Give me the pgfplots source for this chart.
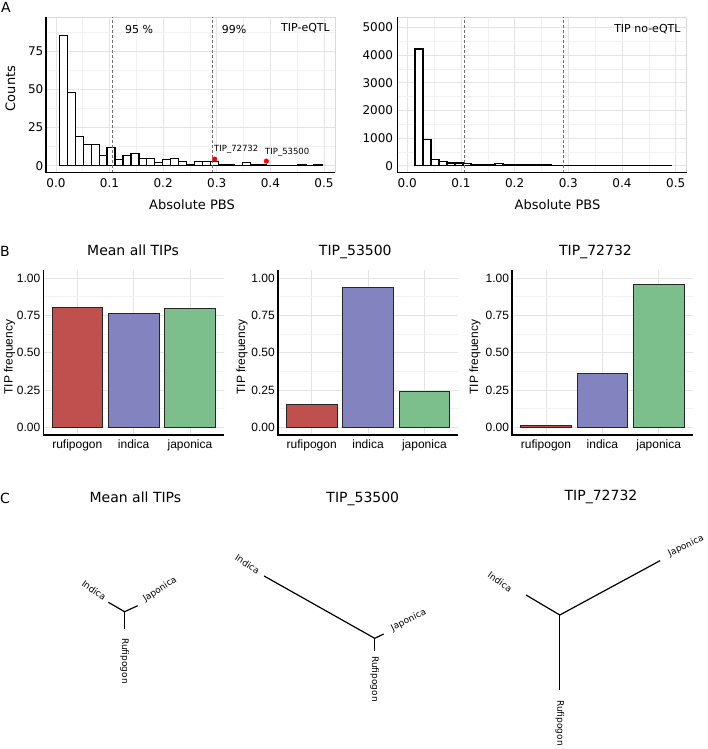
\documentclass[border=0pt]{standalone}
\usepackage{pgfplots}
\pgfplotsset{compat=1.18}
\usepackage{fontspec}
\setmainfont{DejaVu Sans}
\newfontfamily\lib{Liberation Sans}
\definecolor{cred}{HTML}{C0504D}
\definecolor{cblue}{HTML}{8383BF}
\definecolor{cgreen}{HTML}{7DBF8C}
\definecolor{gridmaj}{HTML}{E4E4E4}
\definecolor{gridmin}{HTML}{F1F1F1}
\definecolor{dashc}{HTML}{707070}
\newcommand\fs[1]{\fontsize{#1}{#1}\selectfont}

\pgfplotsset{
  /pgf/number format/assume math mode=true,
  /pgf/number format/1000 sep={},
  histA/.style={
    scale only axis, width=289pt, height=155.7pt,
    xmin=-0.0185, xmax=0.5205,
    scaled x ticks=false, scaled y ticks=false,
    xtick={0,0.1,0.2,0.3,0.4,0.5},
    minor xtick={0.05,0.15,0.25,0.35,0.45},
    xticklabel={\pgfmathprintnumber[fixed,fixed zerofill,precision=1]{\tick}},
    grid=both,
    major grid style={gridmaj, line width=0.7pt},
    minor grid style={gridmin, line width=0.5pt},
    axis line style={gray!30, line width=0.6pt},
    major tick length=0pt, minor tick length=0pt,
    tick label style={font=\fs{12}},
    xticklabel style={inner sep=0pt, anchor=north, yshift=-5.5pt},
    yticklabel style={inner sep=0pt, anchor=east, xshift=-2.5pt},
    clip=false,
  },
  barB/.style={
    scale only axis, width=180.3pt, height=164.3pt,
    xmin=-0.6, xmax=2.6, ymin=-0.05, ymax=1.05,
    xtick={0,1,2}, xticklabels={rufipogon,indica,japonica},
    ytick={0,0.25,0.5,0.75,1},
    minor ytick={0.125,0.375,0.625,0.875},
    yticklabel={\pgfmathprintnumber[fixed,fixed zerofill,precision=2]{\tick}},
    grid=both,
    major grid style={gridmaj, line width=0.7pt},
    minor grid style={gridmin, line width=0.5pt},
    axis line style={draw=none},
    major tick length=0pt, minor tick length=0pt,
    tick label style={font=\lib\fs{12}},
    xticklabel style={inner sep=0pt, anchor=north, yshift=-5pt},
    yticklabel style={inner sep=0pt, anchor=east, xshift=-3pt},
    clip=false,
  },
  barstyle/.style={ybar, bar width=0.9, bar shift=0pt, draw=black!85, line width=0.8pt},
}

\begin{document}
\begin{tikzpicture}
\useasboundingbox (0,0) rectangle (708pt,749pt);

% ---------------- Panel A left ----------------
\begin{axis}[histA, at={(46pt,576.3pt)}, anchor=south west,
  ymin=-4.5, ymax=97.3, ytick={0,25,50,75}, minor ytick={12.5,37.5,62.5,87.5}]
\addplot[ybar interval, fill=white, draw=black, line width=1.2pt] coordinates {
(0.0064,85) (0.02124,48) (0.03608,19) (0.05092,14) (0.06576,14) (0.0806,7)
(0.09544,12) (0.11028,4) (0.12512,7) (0.13996,8) (0.1548,5) (0.16964,5)
(0.18448,2) (0.19932,4) (0.21416,5) (0.229,3) (0.24384,1) (0.25868,3)
(0.27352,3) (0.28836,3) (0.3032,1) (0.31804,1) (0.33288,0) (0.34772,2)
(0.36256,1) (0.3774,1) (0.39224,0) (0.40708,0) (0.42192,0) (0.43676,0)
(0.4516,1) (0.46644,0) (0.48128,1) (0.49612,0)};
\addplot[dashc, line width=0.8pt, dash pattern=on 3pt off 2pt] coordinates {(0.105,-4.5) (0.105,97.3)};
\addplot[dashc, line width=0.8pt, dash pattern=on 3pt off 2pt] coordinates {(0.291,-4.5) (0.291,97.3)};
\addplot[only marks, mark=*, mark size=2.3pt, color=red] coordinates {(0.296,4.4) (0.3925,3.1)};
\draw[black, line width=1.4pt] (rel axis cs:0,1) -- (rel axis cs:0,0) -- (rel axis cs:1,0);
\end{axis}

% ---------------- Panel A right ----------------
\begin{axis}[histA, at={(397.3pt,576.3pt)}, anchor=south west, width=289.4pt,
  ymin=-252, ymax=5373, ytick={0,1000,2000,3000,4000,5000},
  minor ytick={500,1500,2500,3500,4500},
  yticklabel={\pgfmathprintnumber[int detect]{\tick}},
  yticklabel style={xshift=-1.5pt}]
\addplot[ybar interval, fill=white, draw=black, line width=1.2pt] coordinates {
(0.0143,4220) (0.02923,950) (0.04416,230) (0.05909,150) (0.07402,100) (0.08895,95)
(0.10388,70) (0.11881,55) (0.13374,50) (0.14867,45) (0.1636,75) (0.17853,40)
(0.19346,35) (0.20839,30) (0.22332,30) (0.23825,25) (0.25318,25) (0.26811,20)
(0.28304,20) (0.29797,20) (0.3129,15) (0.32783,15) (0.34276,15) (0.35769,12)
(0.37262,12) (0.38755,10) (0.40248,10) (0.41741,10) (0.43234,8) (0.44727,8)
(0.4622,8) (0.47713,5) (0.49206,0)};
\addplot[dashc, line width=0.8pt, dash pattern=on 3pt off 2pt] coordinates {(0.107,-252) (0.107,5373)};
\addplot[dashc, line width=0.8pt, dash pattern=on 3pt off 2pt] coordinates {(0.291,-252) (0.291,5373)};
\draw[black, line width=1.4pt] (rel axis cs:0,1) -- (rel axis cs:0,0) -- (rel axis cs:1,0);
\end{axis}

% ---------------- Panel B ----------------
\begin{axis}[barB, at={(43.5pt,314.2pt)}, anchor=south west]
\addplot[barstyle, fill=cred] coordinates {(0,0.804)};
\addplot[barstyle, fill=cblue] coordinates {(1,0.766)};
\addplot[barstyle, fill=cgreen] coordinates {(2,0.799)};
\draw[black, line width=1.6pt] (rel axis cs:0,1) -- (rel axis cs:0,0) -- (rel axis cs:1,0);
\end{axis}

\begin{axis}[barB, at={(277.9pt,314.2pt)}, anchor=south west]
\addplot[barstyle, fill=cred] coordinates {(0,0.156)};
\addplot[barstyle, fill=cblue] coordinates {(1,0.940)};
\addplot[barstyle, fill=cgreen] coordinates {(2,0.241)};
\draw[black, line width=1.6pt] (rel axis cs:0,1) -- (rel axis cs:0,0) -- (rel axis cs:1,0);
\end{axis}

\begin{axis}[barB, at={(512.2pt,314.2pt)}, anchor=south west]
\addplot[barstyle, fill=cred] coordinates {(0,0.015)};
\addplot[barstyle, fill=cblue] coordinates {(1,0.364)};
\addplot[barstyle, fill=cgreen] coordinates {(2,0.958)};
\draw[black, line width=1.6pt] (rel axis cs:0,1) -- (rel axis cs:0,0) -- (rel axis cs:1,0);
\end{axis}

% ---------------- Overlay: labels and panel C trees (pixel coordinates) ----------------
\begin{axis}[at={(0pt,0pt)}, anchor=south west, scale only axis, width=708pt, height=749pt,
  xmin=0, xmax=708, ymin=0, ymax=749, y dir=reverse, hide axis, clip=false]
% panel letters
\node[font=\fs{14}] at (axis cs:6,7) {A};
\node[font=\fs{14}] at (axis cs:5,251.5) {B};
\node[font=\fs{14}] at (axis cs:5,498) {C};
% panel A labels
\node[font=\fs{13}, rotate=90] at (axis cs:10.5,88.5) {Counts};
\node[font=\fs{13}, anchor=base] at (axis cs:192,209) {Absolute PBS};
\node[font=\fs{13}, anchor=base] at (axis cs:557.5,209) {Absolute PBS};
\node[font=\fs{11}, anchor=base west, inner sep=0pt] at (axis cs:125,33.3) {95 \%};
\node[font=\fs{11}, anchor=base west, inner sep=0pt] at (axis cs:221.7,33.3) {99\%};
\node[font=\fs{11}, anchor=base east, inner sep=0pt] at (axis cs:330,32) {TIP-eQTL};
\node[font=\fs{11}, anchor=base east, inner sep=0pt] at (axis cs:680.7,32.3) {TIP no-eQTL};
\node[font=\fs{8.5}, anchor=base west, inner sep=0pt] at (axis cs:214,151.7) {TIP\_72732};
\node[font=\fs{8.5}, anchor=base west, inner sep=0pt] at (axis cs:265,154.3) {TIP\_53500};
% panel B titles and y labels
\node[font=\fs{14}, anchor=base] at (axis cs:133,255) {Mean all TIPs};
\node[font=\fs{14}, anchor=base] at (axis cs:355.3,255) {TIP\_53500};
\node[font=\fs{14}, anchor=base] at (axis cs:595.5,255) {TIP\_72732};
\node[font=\lib\fs{12}, rotate=90] at (axis cs:9.5,357) {TIP frequency};
\node[font=\lib\fs{12}, rotate=90] at (axis cs:242,357) {TIP frequency};
\node[font=\lib\fs{12}, rotate=90] at (axis cs:475,357) {TIP frequency};
% panel C titles
\node[font=\fs{14}, anchor=base] at (axis cs:135.4,502.3) {Mean all TIPs};
\node[font=\fs{14}, anchor=base] at (axis cs:362.8,502.3) {TIP\_53500};
\node[font=\fs{14}, anchor=base] at (axis cs:601,500.7) {TIP\_72732};
% tree 1
\addplot[black, line width=1.2pt] coordinates {(108.4,602.3) (124.6,611.7) (137.7,605.7)};
\addplot[black, line width=1.2pt] coordinates {(124.6,611.7) (124.6,629.3)};
\node[font=\fs{9}, rotate=-35] at (axis cs:94,590.3) {Indica};
\node[font=\fs{9}, rotate=33] at (axis cs:160,589.5) {Japonica};
\node[font=\fs{9}, rotate=-90] at (axis cs:124.6,661) {Rufipogon};
% tree 2
\addplot[black, line width=1.2pt] coordinates {(264.1,576) (374.7,638.3) (383.7,634)};
\addplot[black, line width=1.2pt] coordinates {(374.7,638.3) (374.7,650.7)};
\node[font=\fs{9}, rotate=-33] at (axis cs:247.5,564) {Indica};
\node[font=\fs{9}, rotate=27] at (axis cs:408.6,620.3) {Japonica};
\node[font=\fs{9}, rotate=-90] at (axis cs:374.7,679) {Rufipogon};
% tree 3
\addplot[black, line width=1.2pt] coordinates {(526,595) (559.8,615) (660,560.7)};
\addplot[black, line width=1.2pt] coordinates {(559.8,615) (559.8,690)};
\node[font=\fs{9}, rotate=-35] at (axis cs:500,581.7) {Indica};
\node[font=\fs{9}, rotate=26] at (axis cs:686,546) {Japonica};
\node[font=\fs{9}, rotate=-90] at (axis cs:559.8,723) {Rufipogon};
\end{axis}
\end{tikzpicture}
\end{document}
